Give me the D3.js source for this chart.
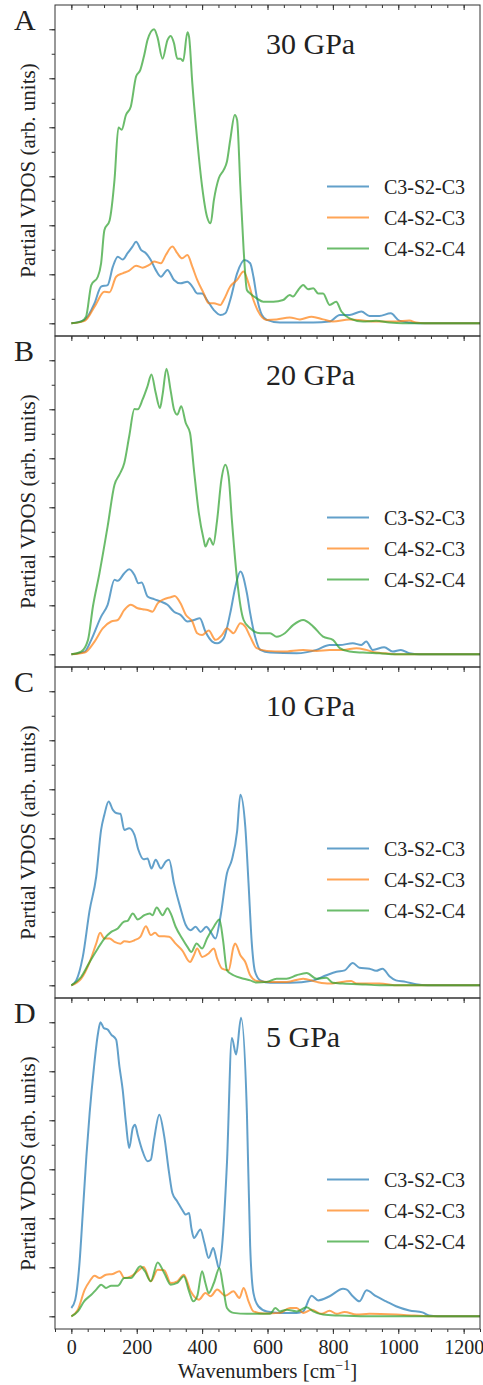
<!DOCTYPE html>
<html>
<head>
<meta charset="utf-8">
<script src="https://cdn.jsdelivr.net/npm/d3@7"></script>
<style>
body {margin: 0; background: #fff;}
text {font-family: "Liberation Serif", "DejaVu Serif", serif; fill: #222;}
</style>
</head>
<body>
<svg></svg>
<script>
// Partial VDOS, four pressures, three angle types each
let seriesNames = ["C3-S2-C3", "C4-S2-C3", "C4-S2-C4"];
let seriesColors = ["#1f77b4", "#ff7f0e", "#2ca02c"];
let panelLetters = ["A", "B", "C", "D"];
let pressures = ["30 GPa", "20 GPa", "10 GPa", "5 GPa"];
let xTicks = [0, 200, 400, 600, 800, 1000, 1200];

// [wavenumber, intensity]
let a_c3c3 = [[0,0],[41,0.14],[71,0.82],[91,1.5],[111,1.56],[127,2.31],[142,2.72],[157,2.6],[172,2.86],[187,3.13],[198,3.33],[213,3.0],[228,2.86],[243,2.58],[258,2.18],[274,1.9],[294,2.18],[314,1.77],[334,1.63],[355,1.7],[370,1.5],[385,1.22],[400,1.22],[415,0.95],[436,0.54],[456,0.34],[471,0.41],[486,0.95],[507,2.04],[530,2.58],[547,2.45],[557,1.9],[567,1.09],[583,0.34],[598,0.14],[638,0.03],[740,0.03],[790,0.07],[821,0.34],[851,0.34],[887,0.48],[912,0.3],[942,0.3],[977,0.41],[1003,0.11],[1034,0.03],[1064,0],[1250,0]];
let a_c4c3 = [[0,0],[41,0.1],[71,0.68],[101,1.29],[117,1.27],[137,1.9],[157,2.04],[177,2.15],[198,2.35],[218,2.27],[238,2.38],[253,2.52],[274,2.45],[289,2.79],[309,3.13],[324,2.86],[339,2.65],[355,2.79],[370,2.31],[385,1.77],[405,1.22],[420,0.82],[436,0.82],[456,0.75],[466,0.95],[486,1.5],[507,1.77],[527,2.11],[542,1.63],[557,0.95],[578,0.34],[598,0.14],[628,0.16],[668,0.24],[699,0.16],[735,0.27],[770,0.16],[800,0.07],[851,0.16],[892,0.11],[932,0.07],[993,0.07],[1034,0.11],[1054,0.03],[1080,0],[1250,0]];
let a_c4c4 = [[0,0],[30,0.07],[45,0.27],[61,1.56],[81,1.9],[91,2.45],[101,3.8],[117,4.2],[132,5.85],[144,7.99],[154,7.9],[167,8.5],[182,8.85],[198,10.07],[211,10.34],[223,10.95],[233,11.56],[253,12.0],[263,11.7],[279,10.8],[294,11.56],[304,11.73],[314,11.43],[324,10.8],[334,10.8],[342,10.7],[355,11.88],[360,11.7],[370,9.8],[385,7.48],[400,5.58],[415,4.35],[426,4.08],[436,5.03],[451,5.92],[466,6.26],[476,6.6],[486,7.48],[500,8.5],[507,8.3],[517,5.58],[527,3.0],[537,1.36],[547,1.22],[567,1.02],[587,0.88],[618,0.88],[648,0.95],[668,1.16],[678,1.09],[694,1.36],[709,1.56],[724,1.39],[740,1.43],[755,1.22],[770,1.22],[790,0.75],[810,0.88],[826,0.48],[851,0.2],[892,0.07],[932,0.1],[973,0.03],[1013,0],[1250,0]];

let b_c3c3 = [[0,0],[41,0.11],[61,0.59],[91,1.54],[111,2.02],[132,3.04],[142,3.0],[162,3.31],[177,3.47],[193,3.24],[205,2.9],[215,2.93],[233,2.36],[253,2.25],[274,2.15],[294,2.02],[314,1.74],[334,1.61],[355,1.34],[375,1.4],[393,1.47],[410,0.93],[431,0.52],[446,0.45],[466,0.65],[486,1.68],[502,2.77],[517,3.38],[537,2.49],[547,1.68],[562,0.72],[578,0.18],[608,0.07],[689,0.04],[750,0.18],[790,0.38],[821,0.38],[861,0.45],[887,0.38],[902,0.52],[922,0.18],[957,0.29],[983,0.11],[1008,0.18],[1034,0.04],[1064,0],[1250,0]];
let b_c4c3 = [[0,0],[41,0.07],[71,0.52],[96,1.06],[122,1.34],[142,1.4],[162,1.81],[182,2.02],[203,1.88],[218,1.84],[233,1.81],[248,1.74],[264,2.08],[284,2.25],[304,2.33],[316,2.38],[334,2.08],[350,1.61],[370,1.34],[385,0.86],[400,0.79],[420,0.97],[441,0.59],[461,0.79],[476,1.06],[496,0.86],[517,1.27],[532,1.13],[547,0.72],[567,0.25],[598,0.14],[648,0.11],[709,0.18],[750,0.14],[790,0.18],[831,0.18],[872,0.25],[902,0.18],[932,0.07],[962,0.04],[1000,0],[1250,0]];
let b_c4c4 = [[0,0],[30,0.11],[51,0.59],[66,1.95],[86,3.31],[111,5.22],[132,6.92],[147,7.33],[162,7.81],[177,8.9],[193,10.01],[203,10.0],[218,10.4],[233,10.94],[245,11.42],[258,10.67],[271,10.05],[279,10.6],[291,11.65],[304,10.74],[314,9.99],[324,9.78],[336,10.12],[350,9.44],[363,9.03],[375,7.53],[390,5.76],[405,4.67],[410,4.4],[423,4.74],[434,4.47],[446,5.49],[459,7.13],[471,7.74],[481,7.26],[491,5.49],[507,3.04],[527,1.4],[547,1.06],[578,0.86],[608,0.86],[628,0.72],[653,0.86],[679,1.2],[709,1.4],[740,1.13],[770,0.72],[800,0.59],[821,0.25],[851,0.11],[892,0.07],[942,0.04],[993,0],[1250,0]];

let c_c3c3 = [[0,0],[15,0.2],[35,1.16],[56,3.07],[76,4.43],[91,6.34],[101,6.96],[114,7.5],[127,7.16],[137,7.03],[150,7.0],[162,6.34],[177,6.41],[193,6.14],[205,5.53],[221,5.14],[233,5.18],[245,4.77],[258,5.12],[274,4.77],[289,5.05],[299,5.12],[314,4.16],[334,3.14],[350,2.46],[365,2.25],[380,2.39],[395,2.18],[413,2.39],[426,2.18],[441,1.91],[456,2.8],[476,4.57],[491,5.12],[507,6.28],[517,7.78],[532,6.48],[542,4.16],[552,1.71],[562,0.55],[578,0.2],[608,0.1],[669,0.1],[740,0.2],[780,0.41],[811,0.55],[836,0.61],[861,0.91],[881,0.72],[912,0.68],[932,0.59],[952,0.68],[973,0.37],[993,0.2],[1023,0.14],[1054,0.04],[1090,0],[1250,0]];
let c_c4c3 = [[0,0],[30,0.27],[56,0.95],[76,1.7],[88,2.14],[101,1.91],[117,1.91],[132,1.77],[150,1.7],[162,1.8],[177,1.77],[193,1.84],[211,1.98],[228,2.41],[243,2.05],[256,2.14],[269,2.0],[284,2.0],[299,1.98],[319,1.7],[339,1.43],[363,0.95],[375,1.23],[385,1.5],[400,1.16],[420,1.3],[436,1.5],[446,1.09],[461,0.68],[481,0.61],[496,1.57],[501,1.71],[517,1.23],[532,0.95],[547,0.41],[567,0.18],[608,0.14],[659,0.14],[709,0.27],[750,0.14],[790,0.07],[856,0.18],[872,0.07],[942,0.07],[1000,0],[1250,0]];
let c_c4c4 = [[0,0],[30,0.34],[56,0.95],[81,1.5],[101,1.91],[122,2.18],[142,2.32],[160,2.59],[172,2.63],[188,2.93],[203,2.69],[223,2.86],[240,2.93],[248,2.86],[261,3.18],[279,2.86],[294,3.14],[304,2.93],[319,2.39],[339,1.91],[355,1.57],[367,1.36],[383,1.71],[400,1.5],[415,1.91],[436,2.39],[453,2.69],[464,1.84],[476,0.61],[496,0.41],[527,0.27],[547,0.2],[567,0.11],[598,0.14],[628,0.27],[658,0.27],[689,0.41],[720,0.5],[750,0.27],[780,0.31],[800,0.1],[830,0.07],[900,0.03],[950,0],[1250,0]];

let d_c3c3 = [[0,0.34],[12,0.68],[25,2.18],[35,4.22],[46,6.53],[56,8.3],[69,10.14],[81,11.5],[89,12.0],[99,11.77],[111,11.7],[122,11.5],[137,11.29],[147,10.2],[157,9.25],[167,7.89],[177,6.87],[188,7.69],[195,7.82],[203,7.41],[218,6.73],[233,6.33],[243,6.39],[253,7.21],[269,8.23],[284,7.35],[299,5.85],[309,5.03],[324,4.69],[339,4.35],[350,4.15],[360,4.22],[367,3.61],[375,3.2],[395,3.54],[407,2.99],[420,2.38],[434,2.79],[444,2.31],[451,1.97],[461,2.86],[476,6.26],[491,11.36],[504,10.68],[519,12.18],[537,8.3],[547,2.86],[557,0.95],[572,0.41],[598,0.2],[638,0.14],[689,0.14],[709,0.2],[735,0.84],[755,0.65],[790,0.82],[831,1.12],[841,1.1],[861,0.82],[881,0.61],[903,1.06],[932,0.82],[963,0.61],[993,0.41],[1034,0.24],[1074,0.16],[1094,0.03],[1120,0],[1250,0]];
let d_c4c3 = [[0,0],[20,0.27],[41,1.09],[56,1.43],[71,1.66],[86,1.56],[106,1.7],[127,1.73],[147,1.84],[162,1.56],[182,1.63],[203,1.84],[221,2.01],[243,1.43],[264,1.9],[284,1.88],[304,1.36],[324,1.43],[344,1.7],[365,1.02],[390,0.68],[410,0.95],[426,0.82],[446,1.09],[471,0.84],[496,1.02],[514,0.75],[527,1.16],[542,0.61],[557,0.2],[588,0.11],[638,0.14],[669,0.34],[689,0.34],[709,0.14],[735,0.27],[765,0.1],[790,0.23],[811,0.1],[836,0.18],[872,0.07],[912,0.1],[993,0.07],[1050,0.03],[1100,0],[1250,0]];
let d_c4c4 = [[0,0],[20,0.2],[39,0.61],[61,0.88],[76,1.09],[91,1.29],[106,1.16],[122,1.25],[142,1.25],[162,1.56],[182,1.56],[211,2.04],[225,1.84],[243,1.43],[264,2.2],[284,1.77],[304,1.29],[324,1.36],[344,1.63],[360,1.02],[373,0.61],[385,0.82],[400,1.84],[410,1.36],[420,0.95],[436,1.36],[453,1.97],[464,1.22],[476,0.34],[496,0.14],[537,0.1],[608,0.1],[624,0.34],[638,0.2],[659,0.27],[689,0.2],[720,0.37],[740,0.2],[770,0.07],[820,0.03],[900,0],[1250,0]];

let panelSeries = [
	[a_c3c3, a_c4c3, a_c4c4],
	[b_c3c3, b_c4c3, b_c4c4],
	[c_c3c3, c_c4c3, c_c4c4],
	[d_c3c3, d_c4c3, d_c4c4]
];

let svgWidth = 483;
let svgHeight = 1385;
let svg = d3.select("svg").attr("width", svgWidth).attr("height", svgHeight);

let left = 55, right = 480;
let firstTop = 5;
let panelH = 331;

let xscale = d3.scaleLinear().domain([-50, 1250]).range([left, right]);
let line = d3.line().curve(d3.curveMonotoneX);

panelSeries.forEach(function(series, i) {
	let top = firstTop + i * panelH;
	let bottom = top + panelH;
	let yscale = d3.scaleLinear().domain([-0.518, 12.99]).range([bottom, top]);
	let g = svg.append("g");

	g.append("clipPath").attr("id", "clip" + i)
		.append("rect").attr("x", left).attr("y", top).attr("width", right - left).attr("height", panelH);

	//Kurven
	series.forEach(function(d, k) {
		g.append("path")
			.attr("clip-path", "url(#clip" + i + ")")
			.attr("fill", "none")
			.attr("stroke", seriesColors[k])
			.attr("stroke-opacity", 0.7)
			.attr("stroke-width", 2)
			.attr("d", line(d.map(function(p) {return [xscale(p[0]), yscale(p[1])];})));
	});

	//y-Achse, ohne Beschriftung
	let yaxisMinor = d3.axisLeft(yscale).tickValues(d3.range(0, 13, 1)).tickSize(3.3).tickFormat("");
	let yaxisMajor = d3.axisLeft(yscale).tickValues(d3.range(0, 13, 2)).tickSize(5.7).tickFormat("");
	[yaxisMinor, yaxisMajor].forEach(function(ax) {
		let a = g.append("g").attr("transform", "translate(" + left + ",0)").call(ax);
		a.select(".domain").remove();
		a.selectAll("line").attr("stroke", "#333");
	});

	//x-Ticks oben nach innen
	let xaxisTopMinor = d3.axisBottom(xscale).tickValues(d3.range(0, 1250, 50)).tickSize(3).tickFormat("");
	let xaxisTopMajor = d3.axisBottom(xscale).tickValues(xTicks).tickSize(5).tickFormat("");
	[xaxisTopMinor, xaxisTopMajor].forEach(function(ax) {
		let a = g.append("g").attr("transform", "translate(0," + top + ")").call(ax);
		a.select(".domain").remove();
		a.selectAll("line").attr("stroke", "#333");
	});

	//Rahmen
	g.append("rect")
		.attr("x", left).attr("y", top)
		.attr("width", right - left).attr("height", panelH)
		.attr("fill", "none").attr("stroke", "#333").attr("stroke-width", 1);

	//Buchstabe und Druck
	g.append("text").attr("x", 14).attr("y", top + 25)
		.attr("font-size", 30).text(panelLetters[i]);
	g.append("text").attr("x", 266).attr("y", top + 49)
		.attr("font-size", 30).text(pressures[i]);

	//Achsenbeschriftung y
	g.append("text")
		.attr("text-anchor", "middle")
		.attr("font-size", 21)
		.attr("transform", "translate(35," + (top + panelH / 2) + ")rotate(-90)")
		.text("Partial VDOS (arb. units)");

	//Legende
	seriesNames.forEach(function(name, k) {
		let ly = top + 181.5 + k * 31;
		g.append("line")
			.attr("x1", 327).attr("x2", 369).attr("y1", ly).attr("y2", ly)
			.attr("stroke", seriesColors[k]).attr("stroke-opacity", 0.7).attr("stroke-width", 2);
		g.append("text").attr("x", 384).attr("y", ly).attr("dy", "0.35em")
			.attr("font-size", 20).text(name);
	});

	//untere Achse nur beim letzten Panel
	if (i == panelSeries.length - 1) {
		let xaxisMinor = d3.axisBottom(xscale).tickValues(d3.range(-50, 1251, 50)).tickSize(3).tickFormat("");
		let xaxis = d3.axisBottom(xscale).tickValues(xTicks).tickSize(5).tickPadding(6).tickFormat(d3.format("d"));
		let am = g.append("g").attr("transform", "translate(0," + bottom + ")").call(xaxisMinor);
		am.select(".domain").remove();
		am.selectAll("line").attr("stroke", "#333");
		let a = g.append("g").attr("transform", "translate(0," + bottom + ")").call(xaxis);
		a.select(".domain").remove();
		a.selectAll("line").attr("stroke", "#333");
		a.selectAll("text").attr("font-size", 20).attr("font-family", "Liberation Serif, serif").attr("fill", "#222");

		g.append("text")
			.attr("text-anchor", "middle")
			.attr("x", (left + right) / 2)
			.attr("y", bottom + 49)
			.attr("font-size", 21)
			.html("Wavenumbers [cm<tspan dy='-8' font-size='14'>\u22121</tspan><tspan dy='8'>]</tspan>");
	}
});
</script>
</body>
</html>
